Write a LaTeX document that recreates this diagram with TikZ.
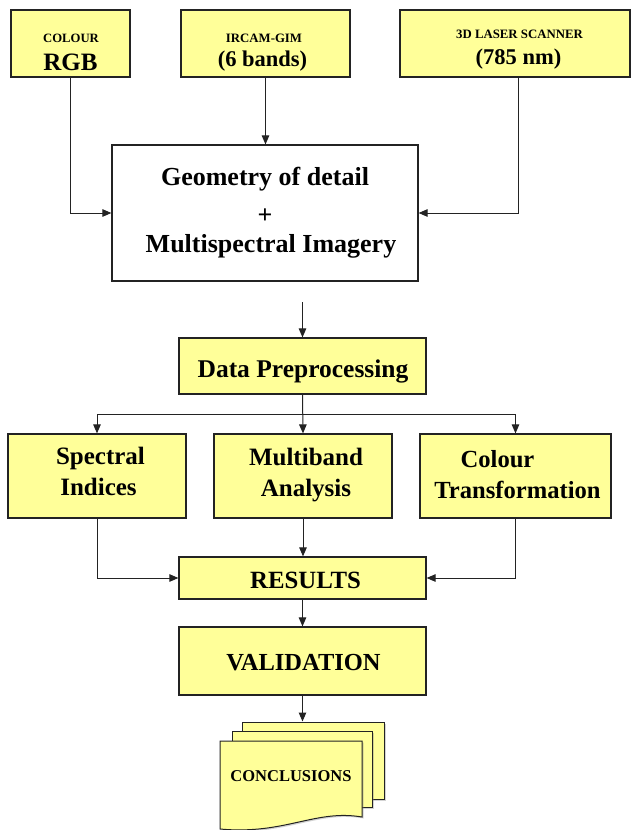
\documentclass[tikz,border=0pt]{standalone}
\usepackage{fontspec}
\setmainfont{Liberation Serif}
\usetikzlibrary{arrows.meta,shadows}
\definecolor{yel}{RGB}{255,255,153}
\definecolor{edge}{RGB}{35,35,35}
\begin{document}
\begin{tikzpicture}[x=1pt,y=-1pt,
  box/.style={draw=edge, line width=1.2pt, fill=yel, inner sep=0pt, rectangle},
  wbox/.style={draw=edge, line width=1.2pt, fill=white, inner sep=0pt, rectangle},
  doc/.style={draw=edge, line width=1pt, fill=yel, drop shadow={shadow xshift=1.5pt, shadow yshift=-1.5pt, opacity=0.35, fill=gray}},
  arr/.style={draw=edge, line width=1pt, -{Triangle[length=9pt,width=7.5pt]}},
  t/.style={inner sep=0pt, anchor=base, font=\bfseries\fontsize{#1}{#1}\selectfont}]
\useasboundingbox (0,0) rectangle (632,830);
\clip (0,0) rectangle (632,830);

% input boxes
\node[box, minimum width=119pt, minimum height=67pt] (colour) at (70.5,43.5) {};
\node[box, minimum width=169pt, minimum height=67pt] (ircam) at (265.5,43.5) {};
\node[box, minimum width=230pt, minimum height=67pt] (laser) at (515,43.5) {};
\node[t=12.7] (colourA) at (71,42) {COLOUR};
\node[t=25] (colourB) at (70.5,70) {RGB};
\node[t=12.8] (ircamA) at (264,42) {IRCAM-GIM};
\node[t=22.5] (ircamB) at (262.5,66) {(6 bands)};
\node[t=12.8] (laserA) at (519.5,38) {3D LASER SCANNER};
\node[t=22.5] (laserB) at (518.5,64) {(785 nm)};

% geometry box
\node[wbox, minimum width=306pt, minimum height=136pt] (geom) at (265,213) {};
\node[t=26] (geomA) at (265,185) {Geometry of detail};
\node[t=26] (geomB) at (265,223) {+};
\node[t=26] (geomC) at (271,252) {Multispectral Imagery};

% processing
\node[box, minimum width=247pt, minimum height=56pt] (prep) at (302.5,366) {};
\node[t=25.5] (prepA) at (303,377) {Data Preprocessing};
\node[box, minimum width=178pt, minimum height=84pt] (spec) at (97,476) {};
\node[t=25] (specA) at (100.5,464) {Spectral};
\node[t=25] (specB) at (98.5,495) {Indices};
\node[box, minimum width=178pt, minimum height=84pt] (multi) at (303,476) {};
\node[t=25] (multiA) at (306,465) {Multiband};
\node[t=25] (multiB) at (306,496) {Analysis};
\node[box, minimum width=191pt, minimum height=84pt] (trans) at (515.5,476) {};
\node[t=24.6] (transA) at (497.5,467) {Colour};
\node[t=24.6] (transB) at (517.5,498) {Transformation};
\node[box, minimum width=247pt, minimum height=42pt] (results) at (302.5,578) {};
\node[t=24.8] (resultsA) at (305.5,588) {RESULTS};
\node[box, minimum width=247pt, minimum height=68pt] (valid) at (302.5,661) {};
\node[t=24.5] (validA) at (303.5,670) {VALIDATION};

% document stack
\node[doc, rectangle, inner sep=0pt, minimum width=142pt, minimum height=77pt] (doc3) at (313,760.5) {};
\node[doc, rectangle, inner sep=0pt, minimum width=140pt, minimum height=76pt] (doc2) at (302,769) {};
\path[doc] (220,741) -- (362,741) -- (362,817) .. controls (315,809) and (285,835) .. (220,829) -- cycle;
\node[t=16.5] (docA) at (291,781) {CONCLUSIONS};

% connectors
\coordinate (gout) at (302.5,302);
\coordinate (br) at (302.5,414);
\draw[arr] (colour.south) |- (geom.west);
\draw[arr] (ircam.south) -- (ircam.south |- geom.north);
\draw[arr] ([xshift=3.5pt]laser.south) |- (geom.east);
\draw[arr] (gout) -- (prep.north);
\draw[arr] (prep.south) -- (multi.north);
\draw[arr] (br) -| (spec.north);
\draw[arr] (br) -| (trans.north);
\draw[arr] (spec.south) |- (results.west);
\draw[arr] (trans.south) |- (results.east);
\draw[arr] (multi.south) -- (multi.south |- results.north);
\draw[arr] (results.south) -- (valid.north);
\draw[arr] (valid.south) -- (valid.south |- doc3.north);
\end{tikzpicture}
\end{document}
